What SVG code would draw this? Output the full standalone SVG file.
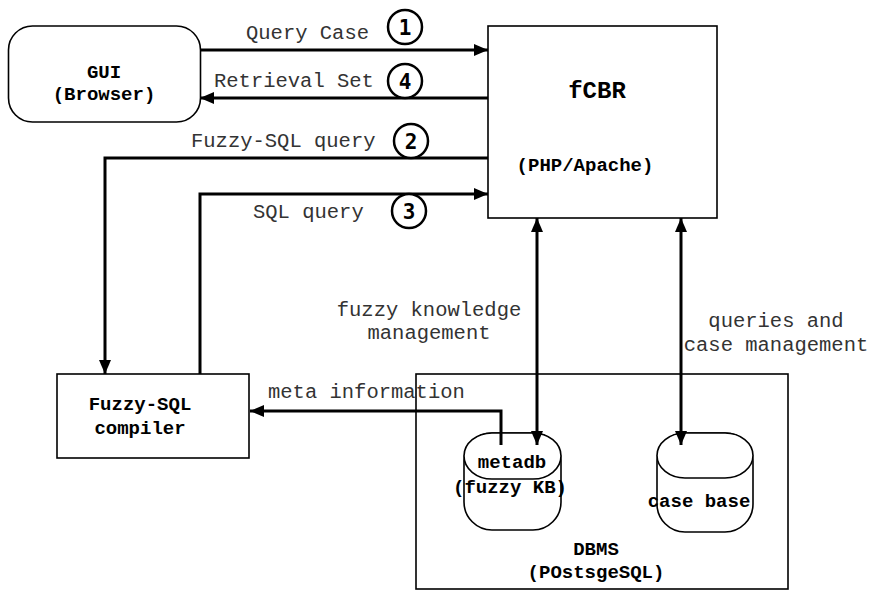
<svg xmlns="http://www.w3.org/2000/svg" width="872" height="592" viewBox="0 0 872 592">
<style>
.box{fill:#fff;stroke:#000;stroke-width:1.6}
.conn{fill:none;stroke:#000;stroke-width:3}
.lbl{font-family:"Courier New","Nimbus Mono PS","FreeMono","Liberation Mono",monospace;font-size:20.5px;fill:#333}
.bold{font-family:"Courier New","Nimbus Mono PS","FreeMono","Liberation Mono",monospace;font-size:19px;font-weight:bold;fill:#000;text-anchor:middle}
.num{font-family:"DejaVu Sans Mono",monospace;font-size:21px;font-weight:bold;fill:#000;text-anchor:middle}
.circ{fill:#fff;stroke:#000;stroke-width:2.5}
</style>
<defs>
<marker id="ah" markerUnits="userSpaceOnUse" markerWidth="14" markerHeight="12" refX="14" refY="6" orient="auto-start-reverse">
<path d="M0,0 L14,6 L0,12 z" fill="#000"/>
</marker>
</defs>
<rect width="872" height="592" fill="#fff"/>

<g id="gui">
<rect class="box" x="8.5" y="26" width="192" height="96" rx="24" ry="24"/>
<text class="bold" x="104" y="78">GUI</text>
<text class="bold" x="104" y="100">(Browser)</text>
</g>

<g id="fcbr">
<rect class="box" x="488" y="26" width="229" height="192"/>
<text class="bold" x="597" y="98" style="font-size:24px">fCBR</text>
<text class="bold" x="585" y="171">(PHP/Apache)</text>
</g>

<g id="compiler">
<rect class="box" x="57" y="374" width="192" height="84"/>
<text class="bold" x="140" y="410">Fuzzy-SQL</text>
<text class="bold" x="140" y="434">compiler</text>
</g>

<g id="dbms">
<rect class="box" x="416" y="374" width="372" height="215"/>
<text class="bold" x="596" y="555">DBMS</text>
<text class="bold" x="596" y="578">(POstsgeSQL)</text>
</g>

<g id="metadb">
<rect class="box" x="464" y="433" width="97" height="97" rx="28" ry="28"/>
<rect class="box" x="464" y="433" width="97" height="46" rx="28" ry="23"/>
<text class="bold" x="512" y="468">metadb</text>
<text class="bold" x="510" y="493">(fuzzy KB)</text>
</g>

<g id="casebase">
<rect class="box" x="657" y="433" width="96" height="99" rx="28" ry="28"/>
<rect class="box" x="657" y="433" width="96" height="45" rx="28" ry="23"/>
<text class="bold" x="699" y="507">case base</text>
</g>

<g id="connectors">
<line class="conn" x1="200" y1="50" x2="488" y2="50" marker-end="url(#ah)"/>
<line class="conn" x1="488" y1="98" x2="200" y2="98" marker-end="url(#ah)"/>
<polyline class="conn" points="488,158 105,158 105,374" marker-end="url(#ah)"/>
<polyline class="conn" points="200,374 200,194 488,194" marker-end="url(#ah)"/>
<line class="conn" x1="537" y1="218" x2="537" y2="445" marker-start="url(#ah)" marker-end="url(#ah)"/>
<line class="conn" x1="681" y1="218" x2="681" y2="445" marker-start="url(#ah)" marker-end="url(#ah)"/>
<polyline class="conn" points="501,445 501,411 250,411" marker-end="url(#ah)"/>

<text class="lbl" x="246" y="39">Query Case</text>
<text class="lbl" x="214" y="87">Retrieval Set</text>
<text class="lbl" x="191" y="147">Fuzzy-SQL query</text>
<text class="lbl" x="253" y="218">SQL query</text>
<text class="lbl" x="268" y="398">meta information</text>
<text class="lbl" x="429" y="316" text-anchor="middle">fuzzy knowledge</text>
<text class="lbl" x="429" y="339" text-anchor="middle">management</text>
<text class="lbl" x="776" y="327" text-anchor="middle">queries and</text>
<text class="lbl" x="776" y="351" text-anchor="middle">case management</text>

<circle class="circ" cx="405" cy="27" r="17"/>
<text class="num" x="405" y="34.5">1</text>
<circle class="circ" cx="405" cy="81" r="17"/>
<text class="num" x="405" y="88.5">4</text>
<circle class="circ" cx="411" cy="141" r="17"/>
<text class="num" x="411" y="148.5">2</text>
<circle class="circ" cx="409" cy="211" r="17"/>
<text class="num" x="409" y="218.5">3</text>
</g>
</svg>
